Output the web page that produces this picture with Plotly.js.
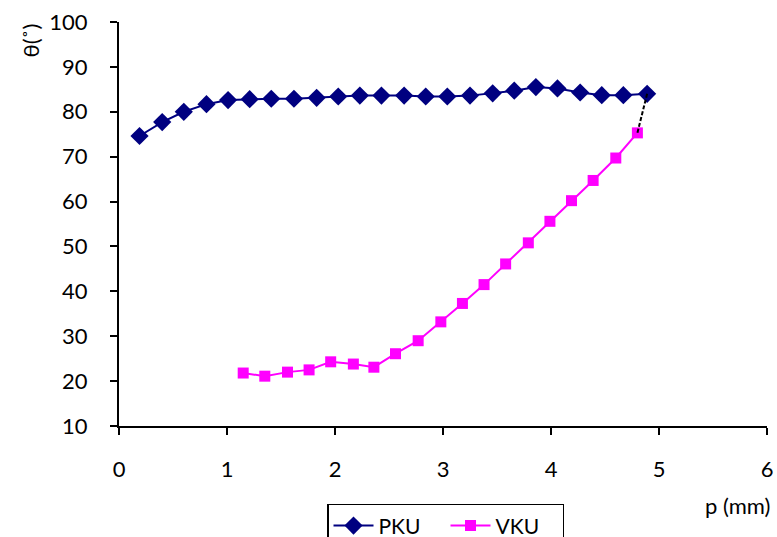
<!DOCTYPE html>
<html>
<head>
<meta charset="utf-8">
<script src="https://cdn.plot.ly/plotly-3.0.1.min.js"></script>
<style>html,body{margin:0;padding:0;background:#fff;}#chart{width:777px;height:537px;}</style>
</head>
<body>
<div id="chart"></div>
<script>
const pkuX = [0.19, 0.40, 0.60, 0.81, 1.01, 1.21, 1.41, 1.62, 1.83, 2.03, 2.23, 2.43, 2.64, 2.84, 3.04, 3.25, 3.46, 3.66, 3.86, 4.06, 4.27, 4.47, 4.67, 4.89];
const pkuY = [74.6, 77.7, 80.0, 81.7, 82.6, 82.8, 82.9, 82.9, 83.1, 83.4, 83.6, 83.6, 83.6, 83.4, 83.4, 83.6, 84.1, 84.7, 85.5, 85.2, 84.3, 83.7, 83.7, 84.0];
const vkuX = [1.15, 1.35, 1.56, 1.76, 1.96, 2.17, 2.36, 2.56, 2.77, 2.98, 3.18, 3.38, 3.58, 3.79, 3.99, 4.19, 4.39, 4.60, 4.80];
const vkuY = [21.8, 21.1, 22.0, 22.5, 24.3, 23.8, 23.1, 26.1, 29.0, 33.2, 37.3, 41.5, 46.1, 50.8, 55.6, 60.2, 64.7, 69.7, 75.3];
const seriesNames = ["PKU", "VKU"];
const xTitle = "p (mm)";
const yTitle = "θ(˚)";

const font = "Lato, 'Open Sans', sans-serif";

const traces = [
  {
    x: pkuX, y: pkuY, name: seriesNames[0], mode: "lines+markers",
    line: {color: "#000080", width: 2},
    marker: {symbol: "diamond", size: 14, color: "#000080"}
  },
  {
    x: vkuX, y: vkuY, name: seriesNames[1], mode: "lines+markers",
    line: {color: "#FF00FF", width: 2},
    marker: {symbol: "square", size: 11, color: "#FF00FF"}
  },
  {
    x: [pkuX[pkuX.length - 1], vkuX[vkuX.length - 1]],
    y: [pkuY[pkuY.length - 1], vkuY[vkuY.length - 1]],
    mode: "lines", showlegend: false, hoverinfo: "skip",
    line: {color: "#000000", width: 2, dash: "4px,2px"}
  }
];

const layout = {
  width: 777, height: 537,
  margin: {l: 119, r: 10, t: 22, b: 111, autoexpand: false},
  paper_bgcolor: "#ffffff", plot_bgcolor: "#ffffff",
  font: {family: font, size: 22, color: "#000000"},
  showlegend: true,
  legend: {
    orientation: "h", x: 0.321, xanchor: "left", y: -0.193, yanchor: "top",
    bordercolor: "#000000", borderwidth: 1.5, bgcolor: "#ffffff",
    font: {family: font, size: 21, color: "#000000"},
    itemwidth: 40, entrywidth: 62, tracegroupgap: 0
  },
  xaxis: {
    range: [0, 6], dtick: 1, tick0: 0, showgrid: false, zeroline: false,
    showline: true, linecolor: "#000000", linewidth: 2,
    ticks: "outside", ticklen: 7, tickwidth: 2, tickcolor: "#000000",
    ticklabelstandoff: 16,
    tickfont: {family: font, size: 22, color: "#000000"}
  },
  yaxis: {
    range: [10, 100], dtick: 10, tick0: 10, showgrid: false, zeroline: false,
    showline: true, linecolor: "#000000", linewidth: 2,
    ticks: "outside", ticklen: 7, tickwidth: 2, tickcolor: "#000000",
    ticklabelstandoff: 18,
    tickfont: {family: font, size: 22, color: "#000000"}
  },
  annotations: [
    {text: yTitle, xref: "paper", yref: "paper", x: -0.137, y: 0.955,
     textangle: -90, showarrow: false, xanchor: "center", yanchor: "middle",
     font: {family: font, size: 22, color: "#000000"}},
    {text: xTitle, xref: "paper", yref: "paper", x: 0.955, y: -0.196,
     showarrow: false, xanchor: "center", yanchor: "middle",
     font: {family: font, size: 22, color: "#000000"}}
  ]
};

Plotly.newPlot("chart", traces, layout, {displayModeBar: false, staticPlot: true});
</script>
</body>
</html>
